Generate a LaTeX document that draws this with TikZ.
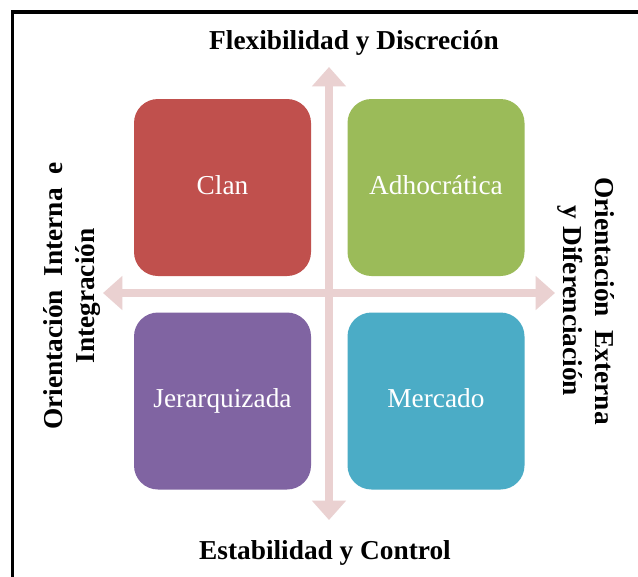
\documentclass[tikz,border=0pt]{standalone}
\usepackage{fontspec}
\setmainfont{Liberation Serif}
\usepackage{xcolor}
\usepackage{tikz}
\usetikzlibrary{arrows.meta, calc}
\definecolor{clanred}{HTML}{C0504D}
\definecolor{adhogreen}{HTML}{9BBB59}
\definecolor{jerapurple}{HTML}{8064A2}
\definecolor{mercacyan}{HTML}{4BACC6}
\definecolor{axispink}{RGB}{234,209,209}

\begin{document}
\begin{tikzpicture}[x=0.75pt, y=-0.75pt,
	quad/.style={rounded corners=18pt, minimum width=132.75pt, minimum height=132.75pt, inner sep=0pt, text=white, text height=14pt, text depth=4pt, font=\fontsize{20.5}{24}\selectfont},
	axislabel/.style={font=\bfseries\fontsize{20.5}{24}\selectfont, align=center, inner sep=0pt},
	axisarrow/.style={axispink, line width=6pt, {Triangle[width=24.75pt, length=14.5pt]}-{Triangle[width=24.75pt, length=14.5pt]}}]

	\useasboundingbox (0,0) rectangle (638,576);
	\clip (0,0) rectangle (638,576);
	\fill[white] (0,0) rectangle (638,576);

	% frame, runs off the page at the right and at the bottom
	\draw[line width=2.3pt] (12.5,600) -- (12.5,12) -- (660,12);

	\coordinate (W) at (103,293);
	\coordinate (E) at (555,293);
	\coordinate (N) at (329,67);
	\coordinate (S) at (329,520);

	\draw[axisarrow] (W) -- (E);
	\draw[axisarrow] (S) -- (N);

	\node[quad, fill=clanred]    (clan) at (222.5,187.5) {Clan};
	\node[quad, fill=adhogreen]  (adho) at (436,187.5)   {Adhocrática};
	\node[quad, fill=jerapurple] (jera) at (222.5,401)   {Jerarquizada};
	\node[quad, fill=mercacyan]  (merc) at (436,401)     {Mercado};

	\small
	\node[axislabel] (top)   at (354,43)  {Flexibilidad y Discreción};
	\node[axislabel] (bot)   at (325,553) {Estabilidad y Control};
	\node[axislabel, rotate=90]  (left)  at (72,296)    {Orientación\ \ Interna\ \ e\\Integración};
	\node[axislabel, rotate=-90] (right) at (586.5,301) {Orientación\ \ Externa\\y Diferenciación};

\end{tikzpicture}
\end{document}
